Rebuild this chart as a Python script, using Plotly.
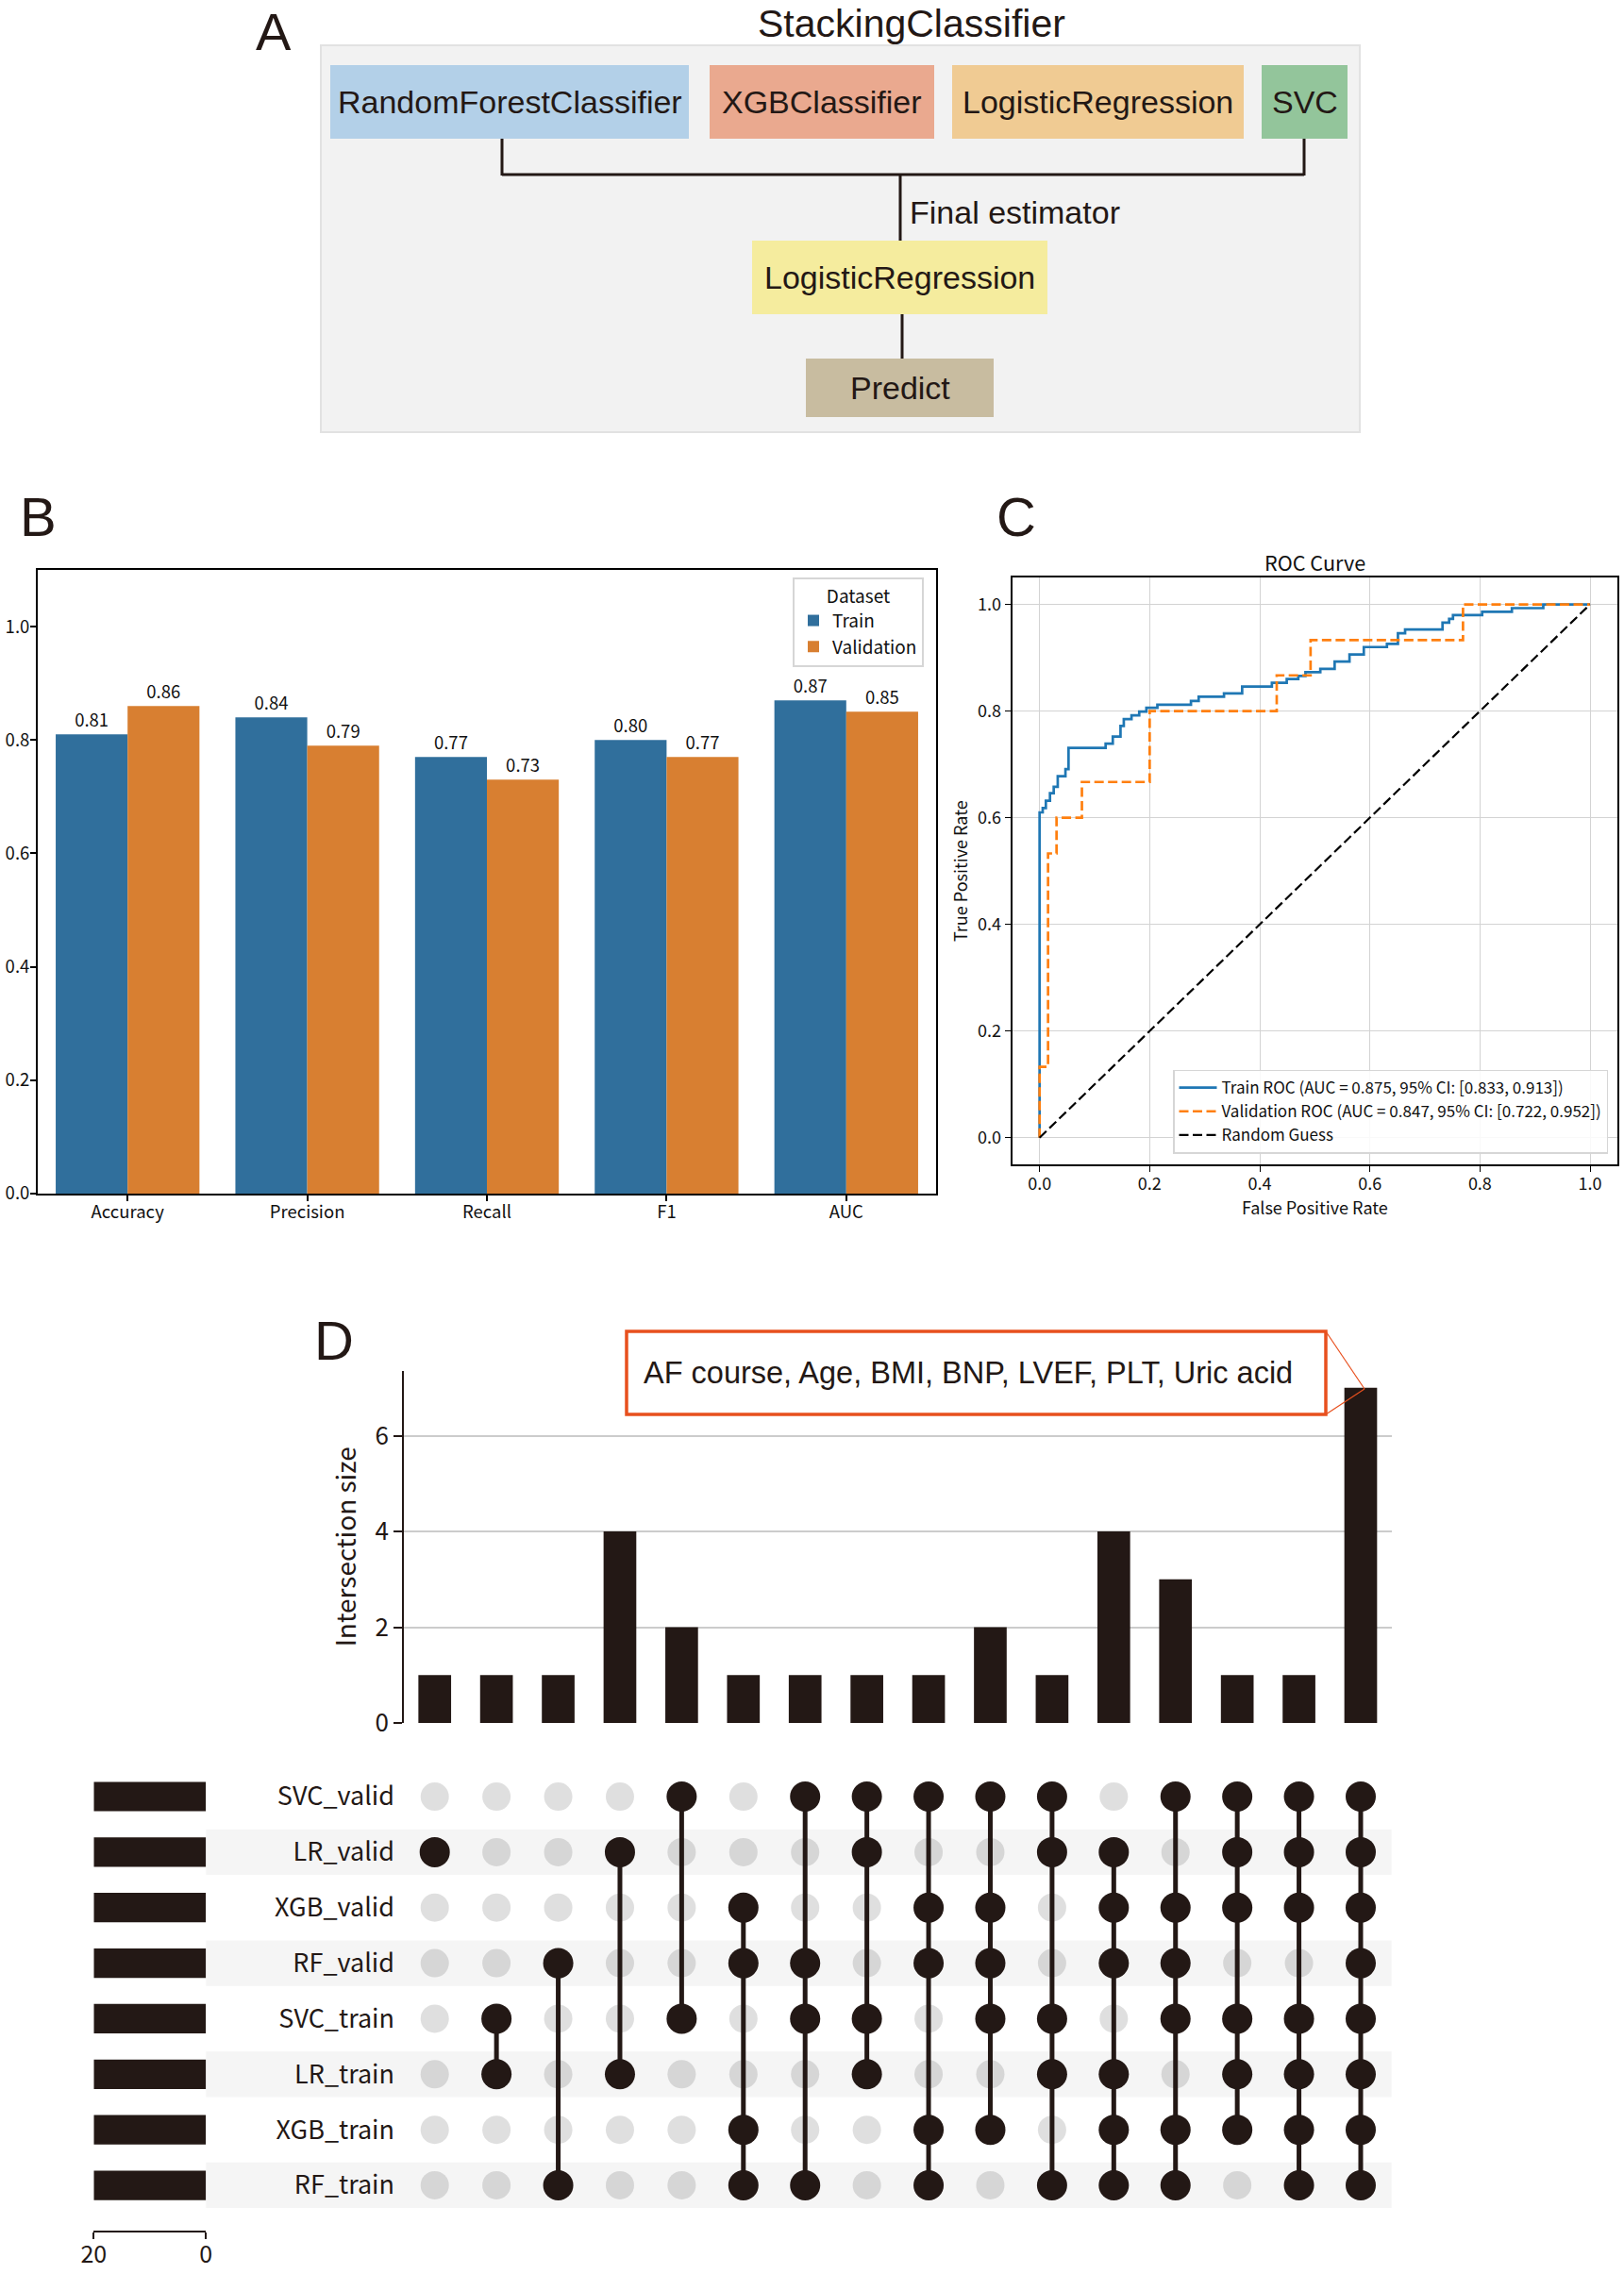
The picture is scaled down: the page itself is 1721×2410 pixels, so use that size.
import plotly.graph_objects as go

W, H = 1721, 2410

# ------------------------------------------------------------------ data
# Panel A (diagram labels)
diagram_title = "StackingClassifier"
base_models = ["RandomForestClassifier", "XGBClassifier", "LogisticRegression", "SVC"]
final_label = "Final estimator"
final_model = "LogisticRegression"
predict_label = "Predict"

# Panel B
metrics = ["Accuracy", "Precision", "Recall", "F1", "AUC"]
train_scores = [0.81, 0.84, 0.77, 0.80, 0.87]
valid_scores = [0.86, 0.79, 0.73, 0.77, 0.85]

# Panel C
train_fpr = [0, 0, 0.0057, 0.0114, 0.0189, 0.0257, 0.033, 0.047, 0.0526, 0.12, 0.133,
             0.147, 0.153, 0.167, 0.181, 0.194, 0.214, 0.275, 0.289, 0.335, 0.368,
             0.422, 0.449, 0.47, 0.483, 0.51, 0.536, 0.563, 0.589, 0.631, 0.651,
             0.664, 0.732, 0.744, 0.751, 0.804, 0.858, 0.915, 1.0]
train_tpr = [0, 0.610, 0.618, 0.632, 0.646, 0.658, 0.678, 0.691, 0.731, 0.739, 0.752,
             0.772, 0.785, 0.792, 0.799, 0.806, 0.812, 0.819, 0.827, 0.833, 0.846,
             0.853, 0.860, 0.866, 0.873, 0.879, 0.893, 0.906, 0.920, 0.926, 0.946,
             0.953, 0.966, 0.973, 0.980, 0.986, 0.993, 1.0, 1.0]
valid_fpr = [0, 0, 0.0154, 0.0308, 0.0769, 0.2, 0.4308, 0.4923, 0.7692, 1.0]
valid_tpr = [0, 0.133, 0.533, 0.600, 0.667, 0.800, 0.867, 0.933, 1.0, 1.0]
guess_x = [0, 1]
guess_y = [0, 1]
train_name = "Train ROC (AUC = 0.875, 95% CI: [0.833, 0.913])"
valid_name = "Validation ROC (AUC = 0.847, 95% CI: [0.722, 0.952])"

# Panel D
set_names = ["SVC_valid", "LR_valid", "XGB_valid", "RF_valid",
             "SVC_train", "LR_train", "XGB_train", "RF_train"]
set_sizes = [20, 20, 20, 20, 20, 20, 20, 20]
inter_sizes = [1, 1, 1, 4, 2, 1, 1, 1, 1, 2, 1, 4, 3, 1, 1, 7]
inter_members = [
    ["LR_valid"],
    ["SVC_train", "LR_train"],
    ["RF_valid", "RF_train"],
    ["LR_valid", "LR_train"],
    ["SVC_valid", "SVC_train"],
    ["XGB_valid", "RF_valid", "XGB_train", "RF_train"],
    ["SVC_valid", "RF_valid", "SVC_train", "RF_train"],
    ["SVC_valid", "LR_valid", "SVC_train", "LR_train"],
    ["SVC_valid", "XGB_valid", "RF_valid", "XGB_train", "RF_train"],
    ["SVC_valid", "XGB_valid", "RF_valid", "SVC_train", "XGB_train"],
    ["SVC_valid", "LR_valid", "SVC_train", "LR_train", "RF_train"],
    ["LR_valid", "XGB_valid", "RF_valid", "LR_train", "XGB_train", "RF_train"],
    ["SVC_valid", "XGB_valid", "RF_valid", "SVC_train", "XGB_train", "RF_train"],
    ["SVC_valid", "LR_valid", "XGB_valid", "SVC_train", "LR_train", "XGB_train"],
    ["SVC_valid", "LR_valid", "XGB_valid", "SVC_train", "LR_train", "XGB_train", "RF_train"],
    set_names,
]
callout_text = "AF course, Age, BMI, BNP, LVEF, PLT, Uric acid"

# ------------------------------------------------------------------ styling
CJK = "Noto Sans CJK SC, Noto Sans, sans-serif"
ARIAL = "Liberation Sans, Arial, sans-serif"
INK = "#231815"
C_TRAIN = "#306f9c"
C_VALID = "#d87f31"


def px(x):
    return x / W


def py(y):
    return 1 - y / H


fig = go.Figure()

# ------------------------------------------------------------------ B bars
fig.add_trace(go.Bar(x=metrics, y=train_scores, name="Train", marker_color=C_TRAIN,
                     marker_line_width=0,
                     texttemplate="%{y:.2f}", textposition="outside",
                     textfont=dict(size=18.5, color="#111", family=CJK),
                     cliponaxis=False, xaxis="x", yaxis="y", legend="legend"))
fig.add_trace(go.Bar(x=metrics, y=valid_scores, name="Validation", marker_color=C_VALID,
                     marker_line_width=0,
                     texttemplate="%{y:.2f}", textposition="outside",
                     textfont=dict(size=18.5, color="#111", family=CJK),
                     cliponaxis=False, xaxis="x", yaxis="y", legend="legend"))

# ------------------------------------------------------------------ C ROC
fig.add_trace(go.Scatter(x=train_fpr, y=train_tpr, mode="lines", name=train_name,
                         line=dict(color="#1f77b4", width=2.7, shape="hv"),
                         xaxis="x2", yaxis="y2", legend="legend2"))
fig.add_trace(go.Scatter(x=valid_fpr, y=valid_tpr, mode="lines", name=valid_name,
                         line=dict(color="#ff7f0e", width=2.7, shape="hv", dash="10px,4.5px"),
                         xaxis="x2", yaxis="y2", legend="legend2"))
fig.add_trace(go.Scatter(x=guess_x, y=guess_y, mode="lines", name="Random Guess",
                         line=dict(color="black", width=2.2, dash="10px,4.5px"),
                         xaxis="x2", yaxis="y2", legend="legend2"))

# ------------------------------------------------------------------ D upset
cols = list(range(len(inter_sizes)))
fig.add_trace(go.Bar(x=cols, y=inter_sizes, width=0.53, marker_color=INK,
                     marker_line_width=0, showlegend=False, xaxis="x3", yaxis="y3"))

row_idx = {n: i for i, n in enumerate(set_names)}
gx, gy, bx, by, lx, ly = [], [], [], [], [], []
for c, mem in enumerate(inter_members):
    rows = [row_idx[m] for m in mem]
    for r in range(len(set_names)):
        if r in rows:
            bx.append(c)
            by.append(r)
        else:
            gx.append(c)
            gy.append(r)
    if len(rows) > 1:
        lx += [c, c, None]
        ly += [min(rows), max(rows), None]

fig.add_trace(go.Scatter(x=gx, y=gy, mode="markers", showlegend=False,
                         marker=dict(size=30, color="rgba(0,0,0,0.125)", line=dict(width=0)),
                         xaxis="x4", yaxis="y4"))
fig.add_trace(go.Scatter(x=lx, y=ly, mode="lines", showlegend=False,
                         line=dict(color=INK, width=5), xaxis="x4", yaxis="y4"))
fig.add_trace(go.Scatter(x=bx, y=by, mode="markers", showlegend=False,
                         marker=dict(size=32, color=INK, line=dict(width=0)),
                         xaxis="x4", yaxis="y4"))

fig.add_trace(go.Bar(x=set_sizes, y=list(range(len(set_names))), orientation="h",
                     width=0.53, marker_color=INK, marker_line_width=0, showlegend=False,
                     xaxis="x5", yaxis="y5"))

# ------------------------------------------------------------------ shapes
shapes = []


def rect(x0, y0, x1, y1, fill, line="rgba(0,0,0,0)", lw=0, layer="above"):
    shapes.append(dict(type="rect", xref="paper", yref="paper",
                       x0=px(x0), x1=px(x1), y0=py(y1), y1=py(y0),
                       fillcolor=fill, line=dict(color=line, width=lw), layer=layer))


def seg(x0, y0, x1, y1, color=INK, lw=3):
    shapes.append(dict(type="line", xref="paper", yref="paper",
                       x0=px(x0), x1=px(x1), y0=py(y0), y1=py(y1),
                       line=dict(color=color, width=lw)))


# Panel A diagram
rect(340, 48, 1441, 458, "#f2f2f2", "#e2e2e2", 2, layer="below")
box_pos = [(350, 730), (752, 990), (1009, 1318), (1337, 1428)]
box_col = ["#b3d0e8", "#eaa98f", "#f0cb93", "#93c59b"]
for (x0, x1), col in zip(box_pos, box_col):
    rect(x0, 69, x1, 147, col)
rect(797, 255, 1110, 333, "#f5ec9e")
rect(854, 380, 1053, 442, "#c8bca0")
seg(532, 147, 532, 186)
seg(532, 185, 1382, 185)
seg(1382, 147, 1382, 186)
seg(954, 185, 954, 255)
seg(956, 333, 956, 380)

# Panel D shading stripes
for r in range(1, len(set_names), 2):
    shapes.append(dict(type="rect", xref="paper", yref="y4",
                       x0=px(218.3), x1=px(1474.7), y0=r - 0.41, y1=r + 0.41,
                       fillcolor="#f5f5f5", line=dict(width=0), layer="below"))

# callout box
rect(664, 1411, 1405, 1499, "white", "#e8501e", 3.5)
seg(1405, 1411, 1446, 1472, "#e8501e", 1.2)
seg(1405, 1499, 1446, 1472, "#e8501e", 1.2)

# ------------------------------------------------------------------ annotations
ann = []


def text(x, y, s, size, family=ARIAL, xanchor="center", color=INK, yanchor="middle"):
    ann.append(dict(x=px(x), y=py(y), xref="paper", yref="paper", text=s,
                    showarrow=False, xanchor=xanchor, yanchor=yanchor,
                    font=dict(size=size, family=family, color=color)))


text(290, 0, "A", 56, yanchor="top")
text(40, 548, "B", 58)
text(1077, 548, "C", 58)
text(354, 1420, "D", 58)

text(966, 0, diagram_title, 41, yanchor="top")
for (x0, x1), name in zip(box_pos, base_models):
    text((x0 + x1) / 2, 108, name, 34)
text(962, 225, final_label, 34, xanchor="left")
text(953.5, 294, final_model, 34)
text(953.5, 411, predict_label, 34)

text(1393, 595, "ROC Curve", 21.6, family=CJK, color="#111")
text(680, 1455, callout_text, 32.5, xanchor="left")

# ------------------------------------------------------------------ layout
frame = dict(showline=True, linecolor="black", linewidth=2, mirror=True,
             ticks="outside", ticklen=6, tickwidth=1.5, tickcolor="black",
             zeroline=False, automargin=False,
             tickfont=dict(size=18.5, family=CJK, color="#111"))
c_ax = dict(range=[-0.05, 1.05], dtick=0.2, tickformat=".1f", showgrid=True,
            gridcolor="#d3d3d3", gridwidth=1.3, showline=True, linecolor="black",
            linewidth=1.6, mirror=True, ticks="outside", ticklen=6, tickwidth=1.3,
            tickcolor="black", zeroline=False, automargin=False,
            tickfont=dict(size=18, family=CJK, color="#111"))

fig.update_layout(
    template="none",
    width=W, height=H, margin=dict(l=0, r=0, t=0, b=0, pad=0), autosize=False,
    paper_bgcolor="white", plot_bgcolor="rgba(0,0,0,0)",
    barmode="group", bargap=0.2, bargroupgap=0,
    shapes=shapes, annotations=ann, hovermode=False,
    font=dict(family=CJK, color="#111"),
    xaxis=dict(domain=[px(40), px(992)], anchor="y", range=[-0.5, 4.5],
               showgrid=False, ticklabelstandoff=-4, **frame),
    yaxis=dict(domain=[py(1265), py(604)], anchor="x", range=[0, 1.1],
               dtick=0.2, tickformat=".1f", showgrid=False, ticklabelstandoff=-3, **frame),
    xaxis2=dict(domain=[px(1072.5), px(1714.2)], anchor="y2", ticklabelstandoff=-2,
                title=dict(text="False Positive Rate", standoff=4,
                           font=dict(size=18, family=CJK, color="#111")), **c_ax),
    yaxis2=dict(domain=[py(1234), py(612.3)], anchor="x2",
                title=dict(text="True Positive Rate", standoff=6,
                           font=dict(size=18, family=CJK, color="#111")), **c_ax),
    xaxis3=dict(domain=[px(428), px(1474.7)], anchor="y3", range=[-0.5, 15.5],
                visible=False, showgrid=False, automargin=False),
    yaxis3=dict(domain=[py(1826), py(1452.5)], anchor="x3", range=[0, 7.36],
                tickvals=[0, 2, 4, 6], showgrid=True, gridcolor="#cccccc", gridwidth=1.6,
                zeroline=False, showline=True, linecolor=INK, linewidth=1.6,
                ticks="outside", ticklen=9, tickwidth=1.5, tickcolor=INK, automargin=False,
                tickfont=dict(size=26, family=CJK, color=INK),
                title=dict(text="Intersection size", standoff=12,
                           font=dict(size=28, family=CJK, color=INK))),
    xaxis4=dict(domain=[px(428), px(1474.7)], anchor="y4", range=[-0.5, 15.5],
                visible=False, showgrid=False, automargin=False),
    yaxis4=dict(domain=[py(2345.4), py(1874.6)], anchor="x4", range=[7.5, -0.5],
                tickvals=list(range(len(set_names))), ticktext=set_names,
                showgrid=False, zeroline=False, showline=False, ticks="",
                automargin=False, ticklabelstandoff=9,
                tickfont=dict(size=27, family=CJK, color=INK)),
    xaxis5=dict(domain=[px(99.3), px(218.3)], anchor="y5", range=[20, 0],
                tickvals=[20, 0], showgrid=True, gridcolor="#d9d9d9", gridwidth=1.2,
                zeroline=False, showline=True, linecolor=INK, linewidth=1.8,
                ticks="outside", ticklen=7, tickwidth=1.8, tickcolor=INK, automargin=False,
                ticklabelstandoff=-5,
                tickfont=dict(size=25, family=CJK, color=INK)),
    yaxis5=dict(domain=[py(2364), py(1857)], anchor="x5", range=[7.815, -0.7985],
                visible=False, showgrid=False, automargin=False),
    legend=dict(x=px(979), xanchor="right", y=py(612), yanchor="top",
                bgcolor="rgba(255,255,255,0.85)", bordercolor="#d6d6d6", borderwidth=2,
                title=dict(text="Dataset", side="top center",
                           font=dict(size=19, family=CJK, color="#111")),
                font=dict(size=19, family=CJK, color="#111")),
    legend2=dict(x=px(1704), xanchor="right", y=py(1222.6), yanchor="bottom",
                 bgcolor="rgba(255,255,255,0.85)", bordercolor="#d6d6d6", borderwidth=1.5,
                 itemwidth=40, font=dict(size=17, family=CJK, color="#111")),
)

fig.write_html("out.html",
               config={"displayModeBar": False},
               post_script="document.body.style.margin='0px';"
                           "document.body.style.overflow='hidden';")
